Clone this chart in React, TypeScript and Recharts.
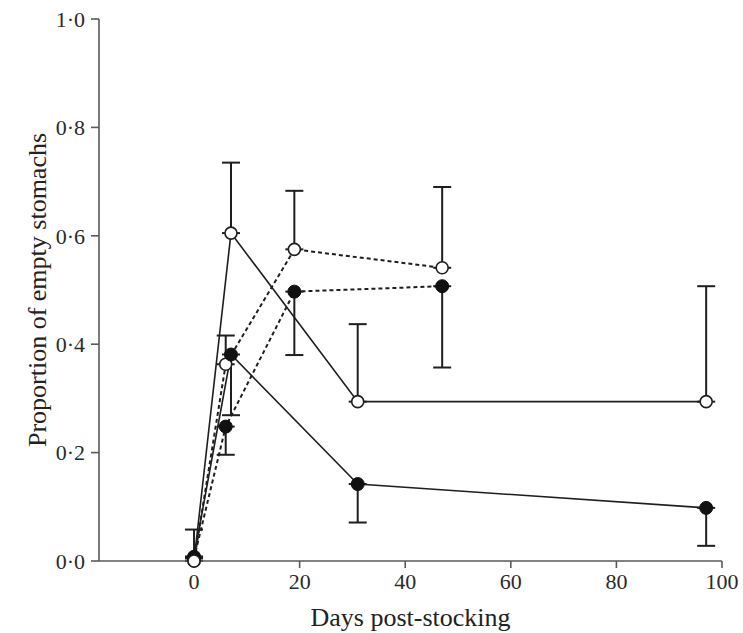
import { LineChart, Line, XAxis, YAxis, ErrorBar } from "recharts";

// open circles, solid line
const openSolidDays = [0, 7, 31, 97];
const openSolidValues = [0.0, 0.605, 0.294, 0.294];
const openSolidUpper = [0.058, 0.735, 0.437, 0.507];

// filled circles, solid line
const filledSolidDays = [0, 7, 31, 97];
const filledSolidValues = [0.008, 0.381, 0.142, 0.098];
const filledSolidLower = [0.008, 0.269, 0.071, 0.028];

// open circles, dashed line
const openDashedDays = [0, 6, 19, 47];
const openDashedValues = [0.0, 0.363, 0.575, 0.541];
const openDashedUpper = [0.0, 0.416, 0.683, 0.69];

// filled circles, dashed line
const filledDashedDays = [0, 6, 19, 47];
const filledDashedValues = [0.005, 0.248, 0.497, 0.507];
const filledDashedLower = [0.005, 0.196, 0.38, 0.357];

const xTicks = [0, 20, 40, 60, 80, 100];
const yTicks = [0, 0.2, 0.4, 0.6, 0.8, 1.0];

const INK = "#1e1e1e";
const AXIS = "#5a5a5a";
const FONT = "'Liberation Serif', 'DejaVu Serif', serif";

function build(days: number[], vals: number[], bound: number[], up: boolean) {
  return days.map((d, i) => ({
    day: d,
    p: vals[i],
    err: up ? [0, bound[i] - vals[i]] : [vals[i] - bound[i], 0],
  }));
}

const openSolid = build(openSolidDays, openSolidValues, openSolidUpper, true);
const filledSolid = build(filledSolidDays, filledSolidValues, filledSolidLower, false);
const openDashed = build(openDashedDays, openDashedValues, openDashedUpper, true);
const filledDashed = build(filledDashedDays, filledDashedValues, filledDashedLower, false);

const openDot = { r: 6, fill: "#ffffff", stroke: INK, strokeWidth: 1.6, strokeDasharray: "none" };
const filledDot = { r: 6.5, fill: "#111111", stroke: "#111111", strokeWidth: 1, strokeDasharray: "none" };

const fmt = (v: number) => v.toFixed(1).replace(".", "·");

export default function App() {
  return (
    <div style={{ position: "absolute", left: 0, top: 0, background: "#fff" }}>
      <LineChart
        width={743}
        height={633}
        margin={{ top: 19, right: 21, bottom: 27, left: 39 }}
      >
        <XAxis
          dataKey="day"
          type="number"
          domain={[-18, 100]}
          ticks={xTicks}
          allowDuplicatedCategory={false}
          stroke={AXIS}
          strokeWidth={1.6}
          tickSize={7}
          tickMargin={5}
          tick={{ fill: "#2a2a2a", fontSize: 22, fontFamily: FONT }}
          height={45}
          label={{
            value: "Days post-stocking",
            position: "bottom",
            offset: 0,
            dy: 2,
            fill: "#222",
            fontSize: 26,
            fontFamily: FONT,
          }}
        />
        <YAxis
          type="number"
          domain={[0, 1]}
          ticks={yTicks}
          tickFormatter={fmt}
          stroke={AXIS}
          strokeWidth={1.6}
          tickSize={8}
          tickMargin={6}
          width={60}
          tick={{ fill: "#2a2a2a", fontSize: 22, fontFamily: FONT }}
          label={{
            value: "Proportion of empty stomachs",
            angle: -90,
            position: "center",
            dx: -32,
            fill: "#222",
            fontSize: 26,
            fontFamily: FONT,
          }}
        />
        <Line
          data={filledDashed}
          dataKey="p"
          stroke={INK}
          strokeWidth={2}
          strokeDasharray="4 3"
          dot={filledDot}
          isAnimationActive={false}
        >
          <ErrorBar dataKey="err" direction="y" width={9} stroke={INK} strokeWidth={2} />
        </Line>
        <Line
          data={openDashed}
          dataKey="p"
          stroke={INK}
          strokeWidth={2}
          strokeDasharray="4 3"
          dot={openDot}
          isAnimationActive={false}
        >
          <ErrorBar dataKey="err" direction="y" width={9} stroke={INK} strokeWidth={2} />
        </Line>
        <Line
          data={filledSolid}
          dataKey="p"
          stroke={INK}
          strokeWidth={1.6}
          dot={filledDot}
          isAnimationActive={false}
        >
          <ErrorBar dataKey="err" direction="y" width={9} stroke={INK} strokeWidth={2} />
        </Line>
        <Line
          data={openSolid}
          dataKey="p"
          stroke={INK}
          strokeWidth={1.6}
          dot={openDot}
          isAnimationActive={false}
        >
          <ErrorBar dataKey="err" direction="y" width={9} stroke={INK} strokeWidth={2} />
        </Line>
      </LineChart>
    </div>
  );
}
